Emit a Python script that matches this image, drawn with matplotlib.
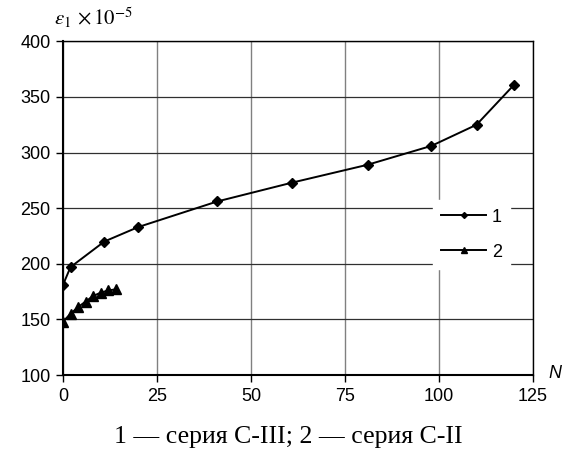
import numpy as np
import matplotlib
matplotlib.use('Agg')
import matplotlib.pyplot as plt

# series 1 (C-III)
n1 = [0, 2, 11, 20, 41, 61, 81, 98, 110, 120]
eps1 = [181, 197, 220, 233, 256, 273, 289, 306, 325, 361]
# series 2 (C-II)
n2 = [0, 2, 4, 6, 8, 10, 12, 14]
eps2 = [148, 155, 161, 166, 171, 174, 176, 177]

xticks = [0, 25, 50, 75, 100, 125]
yticks = [100, 150, 200, 250, 300, 350, 400]

plt.rcParams['font.family'] = ['Liberation Sans', 'DejaVu Sans']
plt.rcParams['mathtext.fontset'] = 'stix'

fig = plt.figure(figsize=(5.7, 4.59), dpi=100)
ax = fig.add_axes([0.1105, 0.183, 0.8245, 0.727])

ax.plot(n1, eps1, color='black', lw=1.4, marker='D', ms=5, label='1', zorder=3)
ax.plot(n2, eps2, color='black', lw=1.4, marker='^', ms=7, label='2', zorder=3)

ax.set_xlim(0, 125)
ax.set_ylim(100, 400)
ax.set_xticks(xticks)
ax.set_yticks(yticks)
ax.tick_params(labelsize=13, direction='out', length=5, width=1, pad=4)
ax.xaxis.grid(True, color='#808080', lw=1)
ax.yaxis.grid(True, color='#303030', lw=0.9)
for s in ax.spines.values():
    s.set_color('black')
    s.set_linewidth(1)
ax.spines['left'].set_linewidth(1.5)
ax.spines['bottom'].set_linewidth(1.5)

leg = fig.legend(loc='upper left', bbox_to_anchor=(0.744, 0.583), frameon=True,
                 fontsize=13, handlelength=2.5, borderpad=0.45, labelspacing=1.0,
                 handletextpad=0.3, markerscale=0.6)
leg.get_frame().set_edgecolor('white')
leg.get_frame().set_facecolor('white')
leg.get_frame().set_alpha(1)
leg.get_frame().set_boxstyle('square', pad=0)

fig.text(0.095, 0.935, r'$\varepsilon_1\,\times 10^{-5}$', fontsize=15, ha='left', va='bottom')
fig.text(0.974, 0.187, 'N', fontsize=13, style='italic', ha='center', va='center')
fig.text(0.506, 0.048, '1 — серия С-III; 2 — серия С-II', fontsize=18.5,
         family=['Liberation Serif', 'DejaVu Serif'], ha='center', va='center')

fig.savefig('out.png', dpi=100)
